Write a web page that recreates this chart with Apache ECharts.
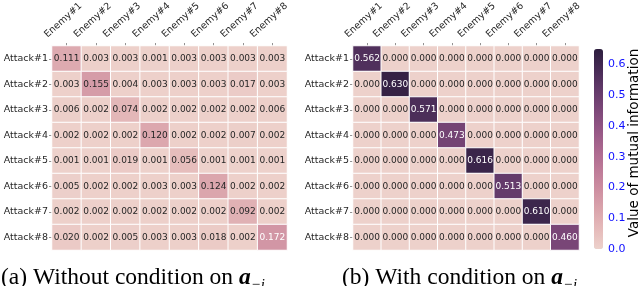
<!DOCTYPE html>
<html><head><meta charset="utf-8">
<script src="https://cdn.jsdelivr.net/npm/echarts@6/dist/echarts.min.js"></script>
<style>html,body{margin:0;padding:0;background:#fff}#c{width:640px;height:286px}</style>
</head><body><div id="c"></div>
<script>
const enemies = ['Enemy#1','Enemy#2','Enemy#3','Enemy#4','Enemy#5','Enemy#6','Enemy#7','Enemy#8'];
const attacks = ['Attack#1','Attack#2','Attack#3','Attack#4','Attack#5','Attack#6','Attack#7','Attack#8'];
const withoutCond = [
  [0.111,0.003,0.003,0.001,0.003,0.003,0.003,0.003],
  [0.003,0.155,0.004,0.003,0.003,0.003,0.017,0.003],
  [0.006,0.002,0.074,0.002,0.002,0.002,0.002,0.006],
  [0.002,0.002,0.002,0.120,0.002,0.002,0.007,0.002],
  [0.001,0.001,0.019,0.001,0.056,0.001,0.001,0.001],
  [0.005,0.002,0.002,0.003,0.003,0.124,0.002,0.002],
  [0.002,0.002,0.002,0.002,0.002,0.002,0.092,0.002],
  [0.020,0.002,0.005,0.003,0.003,0.018,0.002,0.172]
];
const withCond = [
  [0.562,0.000,0.000,0.000,0.000,0.000,0.000,0.000],
  [0.000,0.630,0.000,0.000,0.000,0.000,0.000,0.000],
  [0.000,0.000,0.571,0.000,0.000,0.000,0.000,0.000],
  [0.000,0.000,0.000,0.473,0.000,0.000,0.000,0.000],
  [0.000,0.000,0.000,0.000,0.616,0.000,0.000,0.000],
  [0.000,0.000,0.000,0.000,0.000,0.513,0.000,0.000],
  [0.000,0.000,0.000,0.000,0.000,0.000,0.610,0.000],
  [0.000,0.000,0.000,0.000,0.000,0.000,0.000,0.460]
];
const colorbarTicks = [0.0,0.1,0.2,0.3,0.4,0.5,0.6];
const colorbarTitle = 'Value of mutual information';
const captionA = '(a) Without condition on ';
const captionB = '(b) With condition on ';

const palette = ['#edd1cb','#e5baba','#daa4ac','#cd8ea1','#bd7a98','#aa678f','#935685','#7b4778','#613969','#462b55','#2d1e3e'];
const VMAX = 0.65;

function toData(m){
  const out=[];
  m.forEach((row,r)=>row.forEach((v,c)=>{
    out.push({value:[c,r,v],label:{color: v>0.16?'#ffffff':'#262626'}});
  }));
  return out;
}
const font='DejaVu Sans';
function xAx(gi){
  return {type:'category',gridIndex:gi,data:enemies,position:'top',
    axisLine:{show:false},axisTick:{show:true,alignWithLabel:true,length:3,lineStyle:{color:'#777',width:0.8}},
    axisLabel:{rotate:-42,align:'center',verticalAlign:'bottom',margin:22,fontSize:9.5,fontFamily:font,color:'#262626'},
    splitLine:{show:false}};
}
function yAx(gi){
  return {type:'category',gridIndex:gi,data:attacks,inverse:true,
    axisLine:{show:false},axisTick:{show:true,alignWithLabel:true,length:3,lineStyle:{color:'#777',width:0.8}},
    axisLabel:{margin:4,fontSize:9.5,fontFamily:font,color:'#262626'},splitLine:{show:false}};
}
const capRich={a:{fontSize:23.5,fontFamily:'Liberation Serif',fontWeight:'bold',fontStyle:'italic'},
               s:{fontSize:15,fontFamily:'Liberation Serif',fontStyle:'italic',padding:[15,0,0,0]}};
const chart=echarts.init(document.getElementById('c'),null,{renderer:'canvas'});
chart.setOption({
  animation:false,
  grid:[
    {left:52,top:46,width:235,height:204,outerBoundsMode:'none',containLabel:false},
    {left:353,top:46,width:226,height:204,outerBoundsMode:'none',containLabel:false},
    {left:594,top:49,width:9,height:200,outerBoundsMode:'none',containLabel:false}
  ],
  xAxis:[xAx(0),xAx(1),{type:'value',gridIndex:2,show:false}],
  yAxis:[yAx(0),yAx(1),
    {type:'value',gridIndex:2,position:'right',min:0,max:VMAX,interval:0.1,
     axisLine:{show:false},axisTick:{show:false},splitLine:{show:false},
     axisLabel:{margin:5,fontSize:11,fontFamily:font,color:'#1010ff',
       formatter:v=>colorbarTicks.some(t=>Math.abs(t-v)<1e-9)?v.toFixed(1):''}}
  ],
  visualMap:{type:'continuous',min:0,max:VMAX,seriesIndex:[0,1],calculable:false,
    left:594,top:49,itemWidth:9,itemHeight:200,padding:0,text:null,showLabel:false,
    inRange:{color:palette}},
  series:[
    {type:'heatmap',xAxisIndex:0,yAxisIndex:0,data:toData(withoutCond),
     itemStyle:{borderColor:'#fff',borderWidth:1},
     label:{show:true,fontSize:9,fontFamily:font,formatter:p=>p.value[2].toFixed(3)}},
    {type:'heatmap',xAxisIndex:1,yAxisIndex:1,data:toData(withCond),
     itemStyle:{borderColor:'#fff',borderWidth:1},
     label:{show:true,fontSize:9,fontFamily:font,formatter:p=>p.value[2].toFixed(3)}}
  ],
  graphic:[
    {type:'text',x:634,y:143,rotation:Math.PI/2,style:{text:colorbarTitle,align:'center',verticalAlign:'middle',fontSize:13.5,fontFamily:font,fill:'#000'}},
    {type:'text',left:1,top:266,style:{text:captionA+'{a|a}{s|−i}',fontSize:23.5,fontFamily:'Liberation Serif',fill:'#000',rich:capRich}},
    {type:'text',left:342,top:266,style:{text:captionB+'{a|a}{s|−i}',fontSize:23.5,fontFamily:'Liberation Serif',fill:'#000',rich:capRich}}
  ]
});
</script></body></html>
